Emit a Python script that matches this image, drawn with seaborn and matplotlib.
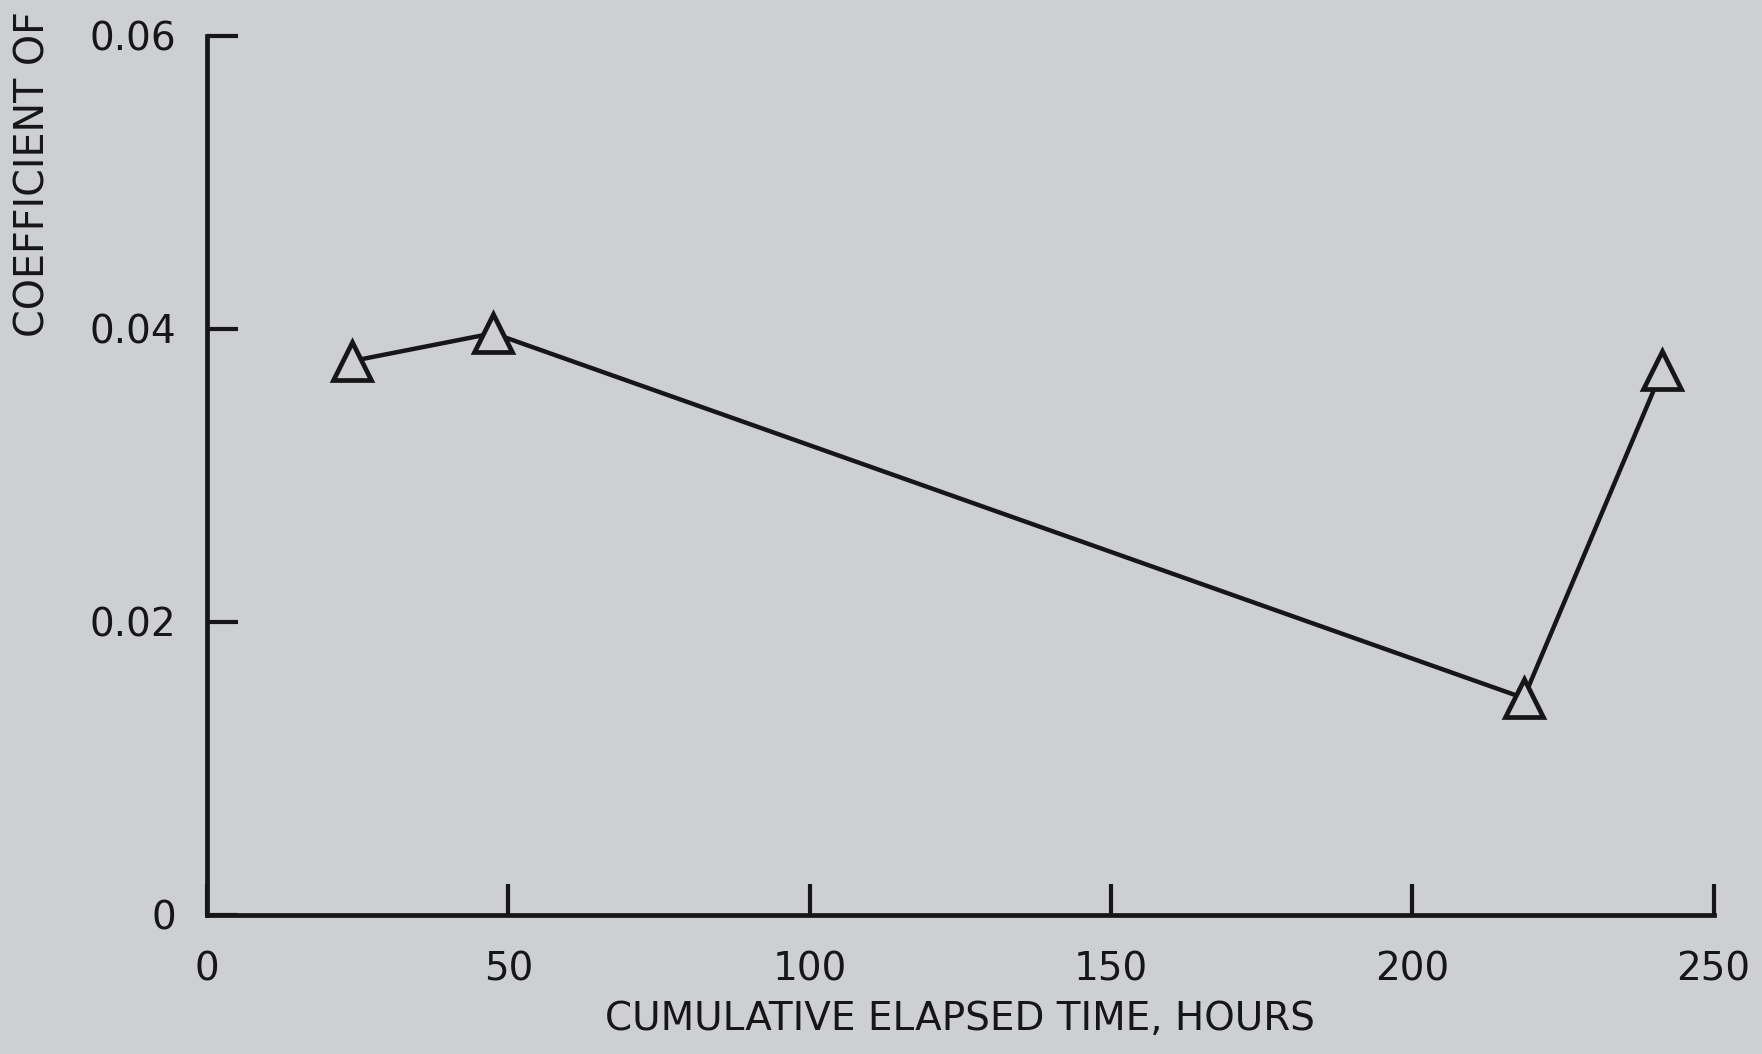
import numpy as np
import matplotlib
matplotlib.use("Agg")
import matplotlib.pyplot as plt
import seaborn as sns

# Data
hours = [24, 47.5, 218.5, 241.5]
coef = [0.0378, 0.0397, 0.0148, 0.0372]

x_ticks = [0, 50, 100, 150, 200, 250]
x_tick_labels = ["0", "50", "100", "150", "200", "250"]
y_ticks = [0, 0.02, 0.04, 0.06]
y_tick_labels = ["0", "0.02", "0.04", "0.06"]

bg = "#cdcfd2"
ink = "#161616"

sns.set_style("ticks", {"axes.facecolor": bg, "figure.facecolor": bg})
plt.rcParams["font.family"] = ["DejaVu Sans"]

fig = plt.figure(figsize=(17.62, 10.54), dpi=100)
ax = fig.add_axes([0.1175, 0.132, 0.855, 0.834])

sns.lineplot(x=hours, y=coef, ax=ax, color=ink, linewidth=3.2,
             marker="^", markersize=27, markerfacecolor=bg,
             markeredgecolor=ink, markeredgewidth=3.4, clip_on=False)

ax.set_xlim(0, 250)
ax.set_ylim(0, 0.06)
ax.set_xticks(x_ticks)
ax.set_xticklabels(x_tick_labels)
ax.set_yticks(y_ticks)
ax.set_yticklabels(y_tick_labels)

for side in ["top", "right"]:
    ax.spines[side].set_visible(False)
for side in ["left", "bottom"]:
    ax.spines[side].set_linewidth(3.4)
    ax.spines[side].set_color(ink)

ax.tick_params(axis="both", direction="in", length=22, width=3.0,
               color=ink, labelsize=28, labelcolor=ink)
ax.tick_params(axis="x", pad=26)
ax.tick_params(axis="y", pad=22)

ax.set_xlabel("CUMULATIVE ELAPSED TIME, HOURS", fontsize=28, color=ink,
              labelpad=8)
ax.set_ylabel("")
fig.text(0.019, 1 - 337 / 1054, "COEFFICIENT OF", rotation=90,
         ha="center", va="bottom", fontsize=28.5, color=ink)

fig.savefig("out.png", dpi=100, facecolor=bg)
